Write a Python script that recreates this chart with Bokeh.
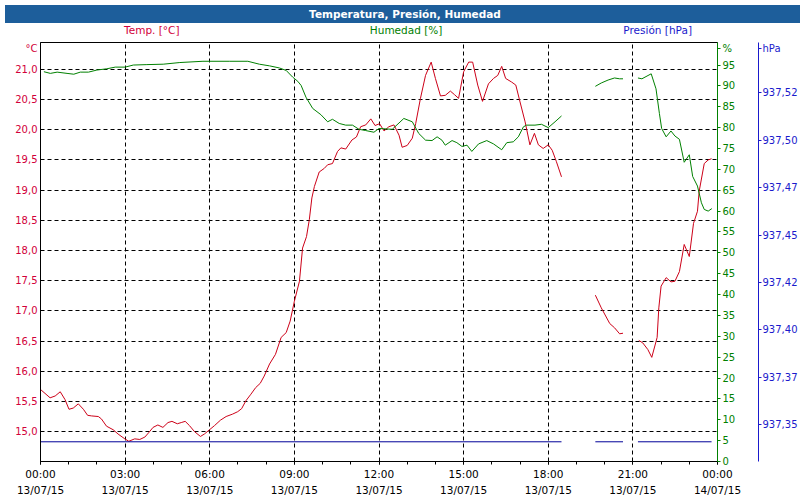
from bokeh.plotting import figure
from bokeh.models import Range1d, LinearAxis, FixedTicker, Div
from bokeh.layouts import column
from bokeh.embed import file_html
from bokeh.resources import INLINE

NaN = float("nan")

TITLE = "Temperatura, Presión, Humedad"
series_headers = ["Temp. [°C]", "Humedad [%]", "Presión [hPa]"]
unit_headers = ["°C", "%", "hPa"]
x_tick_hours = [0, 3, 6, 9, 12, 15, 18, 21, 24]
x_tick_labels = ["00:00\n13/07/15", "03:00\n13/07/15", "06:00\n13/07/15",
                 "09:00\n13/07/15", "12:00\n13/07/15", "15:00\n13/07/15",
                 "18:00\n13/07/15", "21:00\n13/07/15", "00:00\n14/07/15"]
x_minor_hours = list(range(0, 25))
temp_ticks = [15.0, 15.5, 16.0, 16.5, 17.0, 17.5, 18.0, 18.5, 19.0, 19.5, 20.0, 20.5, 21.0]
temp_tick_labels = ["15,0", "15,5", "16,0", "16,5", "17,0", "17,5", "18,0",
                    "18,5", "19,0", "19,5", "20,0", "20,5", "21,0"]
hum_ticks = [0, 5, 10, 15, 20, 25, 30, 35, 40, 45, 50, 55, 60, 65, 70, 75, 80, 85, 90, 95]
pres_ticks = [937.350, 937.375, 937.400, 937.425, 937.450, 937.475, 937.500, 937.525]
pres_tick_labels = ["937,35", "937,37", "937,40", "937,42", "937,45", "937,47", "937,50", "937,52"]

# ranges of the three scales
temp_range = (14.505, 21.445)
hum_range = (0.0, 100.4)
pres_range = (937.3306, 937.5516)

temp_hours = [0.02, 0.34, 0.52, 0.70, 0.87, 1.01, 1.16, 1.34, 1.52, 1.67, 1.81, 2.05, 2.16, 2.34,
              2.58, 2.75, 2.99, 3.13, 3.34, 3.52, 3.70, 3.85, 3.99, 4.16, 4.34, 4.52, 4.66, 4.85,
              4.99, 5.13, 5.28, 5.46, 5.67, 5.81, 5.99, 6.17, 6.38, 6.58, 6.81, 6.99, 7.13, 7.28,
              7.46, 7.63, 7.79, 7.93, 8.12, 8.33, 8.53, 8.71, 8.85, 9.00, 9.18, 9.29, 9.43, 9.53,
              9.62, 9.71, 9.88, 10.06, 10.18, 10.35, 10.53, 10.65, 10.82, 11.04, 11.20, 11.35,
              11.53, 11.71, 11.86, 12.02, 12.18, 12.35, 12.53, 12.71, 12.82, 13.00, 13.18, 13.30,
              13.47, 13.65, 13.85, 14.00, 14.18, 14.35, 14.53, 14.68, 14.82, 15.00, 15.18, 15.32,
              15.50, 15.67, 15.88, 16.06, 16.21, 16.35, 16.49, 16.70, 16.85, 17.00, 17.18, 17.35,
              17.51, 17.65, 17.82, 18.00, 18.14, 18.29, 18.47,
              NaN,
              19.67, 19.88, 20.18, 20.35, 20.53, 20.65,
              NaN,
              21.21, 21.35, 21.53, 21.67, 21.86, 21.92, 22.00, 22.18, 22.35, 22.49, 22.65, 22.82,
              23.00, 23.15, 23.29, 23.35, 23.53, 23.67, 23.79]
temp_values = [15.69, 15.56, 15.59, 15.66, 15.53, 15.37, 15.39, 15.46, 15.37, 15.27, 15.26, 15.25,
               15.21, 15.09, 15.03, 14.96, 14.88, 14.84, 14.88, 14.87, 14.91, 14.99, 15.07, 15.11,
               15.07, 15.15, 15.17, 15.13, 15.15, 15.17, 15.10, 15.00, 14.92, 14.96, 15.03, 15.10,
               15.19, 15.25, 15.29, 15.33, 15.38, 15.51, 15.62, 15.73, 15.80, 15.92, 16.12, 16.28,
               16.56, 16.64, 16.83, 17.16, 17.49, 18.04, 18.23, 18.51, 18.87, 19.06, 19.30, 19.36,
               19.42, 19.44, 19.64, 19.70, 19.68, 19.83, 19.88, 20.05, 20.08, 20.18, 20.07, 20.10,
               19.98, 20.05, 20.08, 19.91, 19.71, 19.74, 19.86, 20.10, 20.52, 20.90, 21.12, 20.85,
               20.56, 20.57, 20.64, 20.58, 20.52, 20.96, 21.12, 21.12, 20.74, 20.47, 20.76, 20.85,
               20.90, 21.05, 20.85, 20.79, 20.74, 20.46, 20.13, 19.75, 19.94, 19.75, 19.69, 19.75,
               19.66, 19.47, 19.22,
               NaN,
               17.26, 17.05, 16.79, 16.72, 16.62, 16.63,
               NaN,
               16.51, 16.47, 16.36, 16.23, 16.56, 17.05, 17.41, 17.55, 17.48, 17.49, 17.65, 18.10,
               17.90, 18.45, 18.65, 18.98, 19.44, 19.50, 19.52]

hum_hours = [0.12, 0.35, 0.59, 0.94, 1.18, 1.41, 1.70, 2.00, 2.35, 2.65, 3.00, 3.29, 3.77, 4.35,
             4.94, 5.76, 6.71, 7.35, 7.76, 8.12, 8.47, 8.71, 8.94, 9.12, 9.24, 9.41, 9.65, 9.94,
             10.18, 10.35, 10.59, 10.82, 11.06, 11.29, 11.53, 11.82, 12.00, 12.47, 12.88, 13.18,
             13.41, 13.65, 13.88, 14.06, 14.23, 14.35, 14.59, 14.76, 14.94, 15.12, 15.29, 15.53,
             15.82, 16.06, 16.35, 16.53, 16.76, 16.94, 17.12, 17.23, 17.53, 17.76, 18.00, 18.24,
             18.47,
             NaN,
             19.67, 19.88, 20.12, 20.35, 20.53, 20.65,
             NaN,
             21.18, 21.32, 21.65, 21.82, 21.94, 22.02, 22.18, 22.35, 22.49, 22.65, 22.82, 23.00,
             23.12, 23.29, 23.43, 23.53, 23.67, 23.80]
hum_values = [93.4, 93.0, 93.3, 93.0, 92.8, 93.3, 93.3, 93.8, 94.1, 94.5, 94.5, 95.0, 95.1, 95.2,
              95.6, 95.9, 95.9, 95.9, 95.2, 94.8, 94.3, 93.7, 92.1, 91.1, 90.1, 87.3, 84.6, 83.1,
              81.4, 82.0, 81.0, 80.6, 80.6, 79.6, 79.3, 78.9, 79.8, 79.6, 82.2, 81.4, 78.6, 77.0,
              76.9, 77.8, 77.0, 75.8, 76.9, 76.4, 75.5, 75.8, 74.3, 76.1, 76.9, 76.1, 74.7, 76.4,
              76.6, 77.8, 80.2, 80.6, 80.6, 80.8, 80.0, 81.4, 82.8,
              NaN,
              89.9, 90.7, 91.4, 91.9, 91.7, 91.7,
              NaN,
              91.9, 91.7, 92.9, 89.3, 83.4, 79.8, 77.8, 79.2, 78.0, 77.2, 71.7, 73.5, 68.3, 66.0,
              62.0, 60.4, 60.0, 60.6]

pres_hours = [0.0, 18.47, NaN, 19.67, 20.65, NaN, 21.18, 23.79]
pres_values = [937.341, 937.341, NaN, 937.341, 937.341, NaN, 937.341, 937.341]

FONT = "DejaVu Sans"
BAR = "#1d5e9b"
RED_T = "#d2003a"
RED_L = "#cc0018"
GREEN = "#008000"
BLUE_T = "#1a1acc"
BLUE_L = "#000099"

FIG_W, FIG_H = 800, 459
LEFT, RIGHT, TOP, BOTTOM = 40, 80, 2, 36
FRAME_W = FIG_W - LEFT - RIGHT
FRAME_H = FIG_H - TOP - BOTTOM
UNIT_OFFSET_PX = 6  # unit headers sit this far below the frame top


def unit_pos(rng):
    return rng[1] - UNIT_OFFSET_PX * (rng[1] - rng[0]) / FRAME_H


p = figure(width=FIG_W, height=FIG_H, output_backend="svg", toolbar_location=None,
           x_range=Range1d(0, 24), y_range=Range1d(*temp_range),
           min_border_left=LEFT, min_border_right=RIGHT, min_border_top=TOP,
           min_border_bottom=BOTTOM,
           background_fill_color="white", border_fill_color="white",
           outline_line_color="black", outline_line_width=1)

p.extra_y_ranges = {"hum": Range1d(*hum_range), "pres": Range1d(*pres_range)}

# bottom time axis
xa = p.xaxis[0]
xa.ticker = FixedTicker(ticks=x_tick_hours, minor_ticks=x_minor_hours)
xa.major_label_overrides = dict(zip(x_tick_hours, x_tick_labels))
xa.axis_line_color = "black"
xa.major_tick_line_color = "black"
xa.minor_tick_line_color = "black"
xa.major_tick_in = 0
xa.major_tick_out = 3
xa.minor_tick_in = 0
xa.minor_tick_out = 3
xa.major_label_standoff = 3
xa.major_label_text_font = FONT
xa.major_label_text_font_size = "10.5px"
xa.major_label_text_line_height = 1.4
xa.major_label_text_color = "black"

# left temperature axis (unit header is the top tick label)
t_unit = unit_pos(temp_range)
ya = p.yaxis[0]
ya.ticker = FixedTicker(ticks=temp_ticks + [t_unit])
labels_t = dict(zip(temp_ticks, temp_tick_labels))
labels_t[t_unit] = unit_headers[0]
ya.major_label_overrides = labels_t
ya.axis_line_color = "black"
ya.major_tick_line_color = None
ya.minor_tick_line_color = None
ya.major_tick_in = 0
ya.major_tick_out = 0
ya.major_label_standoff = 3
ya.major_label_text_font = FONT
ya.major_label_text_font_size = "10px"
ya.major_label_text_color = RED_T

# grids
p.xgrid[0].ticker = FixedTicker(ticks=x_tick_hours)
p.ygrid[0].ticker = FixedTicker(ticks=temp_ticks)
for g in (p.xgrid[0], p.ygrid[0]):
    g.grid_line_color = "black"
    g.grid_line_dash = "4 3"
    g.grid_line_width = 1

# humidity axis
h_unit = unit_pos(hum_range)
labels_h = {v: str(v) for v in hum_ticks}
labels_h[h_unit] = unit_headers[1]
ha = LinearAxis(y_range_name="hum", ticker=FixedTicker(ticks=hum_ticks + [h_unit]),
                major_label_overrides=labels_h,
                axis_line_color=GREEN, major_tick_line_color=GREEN,
                major_tick_in=0, major_tick_out=3, minor_tick_line_color=None,
                major_label_standoff=2, major_label_text_font=FONT,
                major_label_text_font_size="10px", major_label_text_color=GREEN,
                axis_label="\u00a0", axis_label_standoff=6,
                axis_label_text_font_size="10px")
p.add_layout(ha, "right")

# pressure axis
p_unit = unit_pos(pres_range)
labels_p = dict(zip(pres_ticks, pres_tick_labels))
labels_p[p_unit] = unit_headers[2]
pa = LinearAxis(y_range_name="pres", ticker=FixedTicker(ticks=pres_ticks + [p_unit]),
                major_label_overrides=labels_p,
                axis_line_color=BLUE_T, major_tick_line_color=BLUE_T,
                major_tick_in=0, major_tick_out=3, minor_tick_line_color=None,
                major_label_standoff=1, major_label_text_font=FONT,
                major_label_text_font_size="10px", major_label_text_color=BLUE_T)
p.add_layout(pa, "right")

# series
p.line(temp_hours, temp_values, line_color=RED_L, line_width=1)
p.line(hum_hours, hum_values, line_color=GREEN, line_width=1, y_range_name="hum")
p.line(pres_hours, pres_values, line_color=BLUE_L, line_width=1, y_range_name="pres")

# title bar and series header row (HTML text)
header_frac = [0.157, 0.531, 0.901]
header_colors = [RED_T, GREEN, BLUE_T]
spans = ""
for text, frac, col in zip(series_headers, header_frac, header_colors):
    cx = LEFT + frac * FRAME_W
    spans += ('<div style="position:absolute;left:%.1fpx;top:19px;transform:translateX(-50%%);'
              'white-space:nowrap;color:%s;font-size:10.5px;line-height:12px;">%s</div>'
              % (cx, col, text))
html = ('<div style="position:relative;width:%dpx;height:30px;font-family:\'DejaVu Sans\';">'
        '<div style="position:absolute;left:0;top:0;width:%dpx;height:18px;background:%s;'
        'color:white;font-weight:bold;font-size:10.5px;line-height:18px;text-align:center;">%s</div>'
        '%s</div>' % (FIG_W, FIG_W, BAR, TITLE, spans))
header = Div(text=html, width=FIG_W, height=30)

layout = column(header, p, spacing=0)

open("out.html", "w").write(file_html(layout, INLINE))
